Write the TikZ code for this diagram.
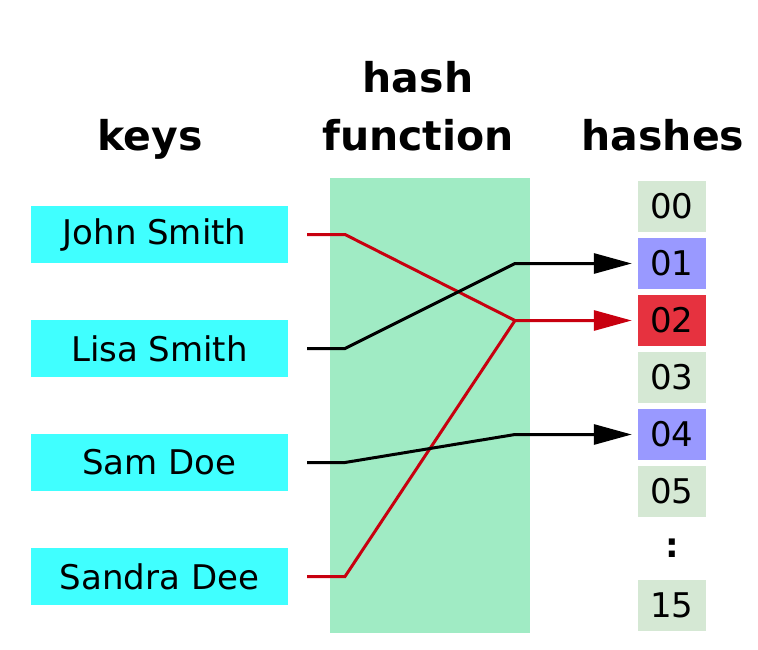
\documentclass[tikz,border=0pt]{standalone}
\usepackage{fontspec}
\setmainfont{DejaVu Sans}
\usetikzlibrary{arrows.meta}
\definecolor{keyc}{HTML}{40FFFF}
\definecolor{hfc}{HTML}{A0EBC4}
\definecolor{hgreen}{HTML}{D5E8D4}
\definecolor{hblue}{HTML}{9999FF}
\definecolor{hred}{HTML}{E6323F}
\definecolor{linered}{HTML}{C8000F}
\begin{document}
\begin{tikzpicture}[x=1pt,y=-1pt,
  keybox/.style={fill=keyc,minimum width=257pt,minimum height=57pt,inner sep=0pt,font=\fontsize{34}{40}\selectfont},
  hashbox/.style={minimum width=68pt,minimum height=51pt,inner sep=0pt,font=\fontsize{34}{40}\selectfont},
  title/.style={anchor=base,inner sep=0pt,font=\fontsize{41}{49}\selectfont\bfseries},
  conn/.style={line width=3pt,line join=miter},
  arr/.style={conn,-{Triangle[length=38pt,width=20pt]}}]
\useasboundingbox (0,0) rectangle (758,650);
% titles
\node[title] (tkeys) at (150,150) {keys};
\node[title] (thash1) at (418,93) {hash};
\node[title] (thash2) at (418,150) {function};
\node[title] (thashes) at (663,150) {hashes};
% hash function area
\node[fill=hfc,minimum width=200pt,minimum height=455pt,inner sep=0pt] (hf) at (430,405.5) {};
% keys
\node[keybox] (john) at (159.5,234.5) {\hspace*{-10pt}John Smith};
\node[keybox] (lisa) at (159.5,348.5) {Lisa Smith};
\node[keybox] (sam) at (159.5,462.5) {Sam Doe};
\node[keybox] (sandra) at (159.5,576.5) {Sandra Dee};
% hashes
\node[hashbox,fill=hgreen] (h00) at (672,206.5) {00};
\node[hashbox,fill=hblue] (h01) at (672,263.5) {01};
\node[hashbox,fill=hred] (h02) at (672,320.5) {02};
\node[hashbox,fill=hgreen] (h03) at (672,377.5) {03};
\node[hashbox,fill=hblue] (h04) at (672,434.5) {04};
\node[hashbox,fill=hgreen] (h05) at (672,491.5) {05};
\node[inner sep=0pt,font=\fontsize{34}{40}\selectfont\bfseries] (dots) at (672,548) {:};
\node[hashbox,fill=hgreen] (h15) at (672,605.5) {15};
% bend coordinates
\coordinate (jb) at (345,234.5);
\coordinate (lb) at (345,348.5);
\coordinate (sb) at (345,462.5);
\coordinate (db) at (345,576.5);
\coordinate (m01) at (515,263.5);
\coordinate (m02) at (515,320.5);
\coordinate (m04) at (515,434.5);
% connectors
\draw[conn,linered] ([xshift=19pt]sandra.east) -- (db) -- (m02);
\draw[arr,linered] ([xshift=19pt]john.east) -- (jb) -- (m02) -- ([xshift=-6pt]h02.west);
\draw[arr,black] ([xshift=19pt]lisa.east) -- (lb) -- (m01) -- ([xshift=-6pt]h01.west);
\draw[arr,black] ([xshift=19pt]sam.east) -- (sb) -- (m04) -- ([xshift=-6pt]h04.west);
\end{tikzpicture}
\end{document}
